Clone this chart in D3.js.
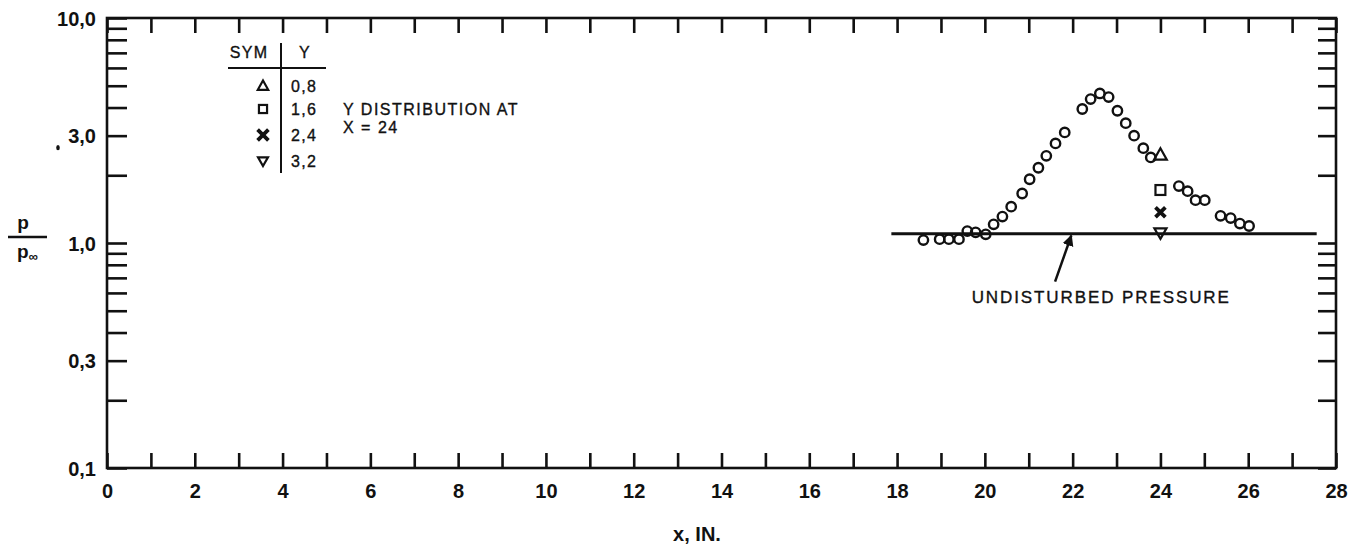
<!DOCTYPE html>
<html><head><meta charset="utf-8">
<script src="https://cdn.jsdelivr.net/npm/d3@7"></script>
<style>
body{margin:0;background:#fff;}
svg{display:block;font-family:"Liberation Sans",Arial,Helvetica,sans-serif;}
</style></head>
<body><svg id="c" width="1357" height="548"></svg>
<script>
// ---- data ----
const circleX = [18.6, 18.97, 19.18, 19.41, 19.6, 19.79, 20.02, 20.2, 20.4, 20.6, 20.85, 21.02, 21.22, 21.4, 21.61, 21.82, 22.22, 22.41, 22.62, 22.82, 23.02, 23.21, 23.4, 23.61, 23.78, 24.42, 24.62, 24.8, 25.01, 25.37, 25.6, 25.81, 26.02];
const circleP = [1.03, 1.04, 1.04, 1.04, 1.13, 1.115, 1.093, 1.21, 1.31, 1.45, 1.66, 1.92, 2.16, 2.44, 2.77, 3.1, 3.94, 4.36, 4.62, 4.45, 3.87, 3.41, 3.0, 2.64, 2.4, 1.79, 1.70, 1.55, 1.55, 1.32, 1.29, 1.22, 1.19];
const yDistX = 24;
const yDistY = [0.8, 1.6, 2.4, 3.2];
const yDistP = [2.46, 1.72, 1.37, 1.11];
const yDistSym = ["triangle", "square", "cross", "triangleDown"];
const undisturbedP = 1.1;
const undisturbedRange = [17.87, 27.56];
const xTicks = d3.range(0, 29);
const xTickLabels = [0, 2, 4, 6, 8, 10, 12, 14, 16, 18, 20, 22, 24, 26, 28];
const yMajorLabels = {10: "10,0", 3: "3,0", 1: "1,0", 0.3: "0,3", 0.1: "0,1"};
const yTicks = [0.1,0.2,0.3,0.4,0.5,0.6,0.7,0.8,0.9,1,2,3,4,5,6,7,8,9,10];

const svg = d3.select("#c");
const L = 107, R = 1336, T = 18, B = 468;
const x = d3.scaleLinear().domain([0, 28]).range([L, R]);
const y = d3.scaleLog().domain([0.1, 10]).range([B, T]);
const ink = "#111";

// axes
const gb = svg.append("g").attr("transform", `translate(0,${B})`)
  .call(d3.axisBottom(x).tickValues(xTicks).tickSize(-15).tickSizeOuter(0).tickPadding(16)
    .tickFormat(d => xTickLabels.includes(d) ? d : ""));
const gt = svg.append("g").attr("transform", `translate(0,${T})`)
  .call(d3.axisTop(x).tickValues(xTicks).tickSize(-15).tickSizeOuter(0).tickFormat(""));
const gl = svg.append("g").attr("transform", `translate(${L},0)`)
  .call(d3.axisLeft(y).tickValues(yTicks).tickSize(-20).tickSizeOuter(0).tickPadding(11)
    .tickFormat(d => yMajorLabels[d] || ""));
const gr = svg.append("g").attr("transform", `translate(${R},0)`)
  .call(d3.axisRight(y).tickValues(yTicks).tickSize(-18).tickSizeOuter(0).tickFormat(""));
[gb, gt, gl, gr].forEach(g => {
  g.select(".domain").remove();
  g.selectAll(".tick line").attr("stroke", ink).attr("stroke-width", 2.6);
  g.selectAll(".tick text").attr("fill", ink).attr("font-size", 20).attr("font-weight", "bold");
});
gl.selectAll(".tick text").attr("dy", "0.36em");
svg.append("rect").attr("x", L).attr("y", T).attr("width", R - L).attr("height", B - T)
  .attr("fill", "none").attr("stroke", ink).attr("stroke-width", 2.6);

// stray mark near 3,0
svg.append("ellipse").attr("cx", 58).attr("cy", y(3) + 12).attr("rx", 1.8).attr("ry", 2.6).attr("fill", ink);

// y label
const yl = svg.append("g").attr("fill", ink).attr("font-weight", "bold");
yl.append("text").attr("x", 23).attr("y", 229).attr("font-size", 19).attr("text-anchor", "middle").text("p");
yl.append("line").attr("x1", 8).attr("x2", 47).attr("y1", 237).attr("y2", 237).attr("stroke", ink).attr("stroke-width", 2.5);
const pinf = yl.append("text").attr("x", 17).attr("y", 258).attr("font-size", 19);
pinf.append("tspan").text("p");
pinf.append("tspan").attr("font-size", 13).attr("dy", 3).text("∞");

// x label
svg.append("text").attr("x", 697).attr("y", 534).attr("dy", "0.36em").attr("text-anchor", "middle").attr("font-size", 20)
  .attr("font-weight", "bold").attr("fill", ink).text("x, IN.");

// undisturbed line
svg.append("line").attr("x1", x(undisturbedRange[0])).attr("x2", x(undisturbedRange[1]))
  .attr("y1", y(undisturbedP)).attr("y2", y(undisturbedP)).attr("stroke", ink).attr("stroke-width", 3);

// circles
svg.append("g").selectAll("circle").data(circleX.map((d, i) => [d, circleP[i]])).join("circle")
  .attr("cx", d => x(d[0])).attr("cy", d => y(d[1])).attr("r", 4.7)
  .attr("fill", "none").attr("stroke", ink).attr("stroke-width", 2.4);

// symbol helper
function sym(g, type, cx, cy, s) {
  if (type === "triangle") {
    g.append("path").attr("d", `M${cx},${cy - s * 0.62}L${cx + s * 0.58},${cy + s * 0.42}L${cx - s * 0.58},${cy + s * 0.42}Z`)
      .attr("fill", "none").attr("stroke", ink).attr("stroke-width", 2.2);
  } else if (type === "triangleDown") {
    g.append("path").attr("d", `M${cx},${cy + s * 0.55}L${cx + s * 0.55},${cy - s * 0.4}L${cx - s * 0.55},${cy - s * 0.4}Z`)
      .attr("fill", "none").attr("stroke", ink).attr("stroke-width", 2.2);
  } else if (type === "square") {
    g.append("rect").attr("x", cx - s * 0.45).attr("y", cy - s * 0.45).attr("width", s * 0.9).attr("height", s * 0.9)
      .attr("fill", "none").attr("stroke", ink).attr("stroke-width", 2.2);
  } else if (type === "cross") {
    const h = s * 0.45;
    g.append("path").attr("d", `M${cx - h},${cy - h}L${cx + h},${cy + h}M${cx + h},${cy - h}L${cx - h},${cy + h}`)
      .attr("stroke", ink).attr("stroke-width", 3.8);
  }
}
const gs = svg.append("g");
yDistP.forEach((p, i) => sym(gs, yDistSym[i], x(yDistX), y(p), 11));

// annotation
const arrowTail = [21.6, 0.673], arrowTip = [21.97, 1.08];
svg.append("defs").append("marker").attr("id", "ah").attr("viewBox", "0 0 10 10").attr("refX", 9).attr("refY", 5)
  .attr("markerWidth", 4.5).attr("markerHeight", 5.5).attr("orient", "auto")
  .append("path").attr("d", "M0,0L10,5L0,10Z").attr("fill", ink);
svg.append("line").attr("x1", x(arrowTail[0])).attr("y1", y(arrowTail[1]))
  .attr("x2", x(arrowTip[0])).attr("y2", y(arrowTip[1])).attr("stroke", ink).attr("stroke-width", 2.5)
  .attr("marker-end", "url(#ah)");
svg.append("text").attr("x", x(19.7)).attr("y", y(0.575)).attr("dy", "0.36em").attr("font-size", 17)
  .attr("letter-spacing", 1.9).attr("fill", ink).attr("stroke", ink).attr("stroke-width", 0.35)
  .text("UNDISTURBED PRESSURE");

// legend
const lg = svg.append("g").attr("fill", ink).attr("font-size", 16).attr("letter-spacing", 1.3)
  .attr("stroke", ink).attr("stroke-width", 0.35);
lg.append("text").attr("x", 249).attr("y", 52).attr("dy", "0.36em").attr("text-anchor", "middle").text("SYM");
lg.append("text").attr("x", 305).attr("y", 52).attr("dy", "0.36em").attr("text-anchor", "middle").text("Y");
lg.append("line").attr("x1", 228).attr("x2", 326).attr("y1", 68).attr("y2", 68).attr("stroke", ink).attr("stroke-width", 2);
lg.append("line").attr("x1", 281).attr("x2", 281).attr("y1", 43).attr("y2", 173).attr("stroke", ink).attr("stroke-width", 2);
const rowY = [86, 109, 135, 161];
yDistY.forEach((v, i) => {
  sym(lg, yDistSym[i], 263, rowY[i], i === 2 ? 12 : 9);
  lg.append("text").attr("x", 291).attr("y", rowY[i]).attr("dy", "0.36em")
    .text(String(v).replace(".", ","));
});
lg.append("text").attr("x", 343).attr("y", 109).attr("dy", "0.36em").attr("letter-spacing", 1.5).text("Y DISTRIBUTION AT");
lg.append("text").attr("x", 343).attr("y", 127).attr("dy", "0.36em").attr("letter-spacing", 1.5).text("X = 24");
</script></body></html>
